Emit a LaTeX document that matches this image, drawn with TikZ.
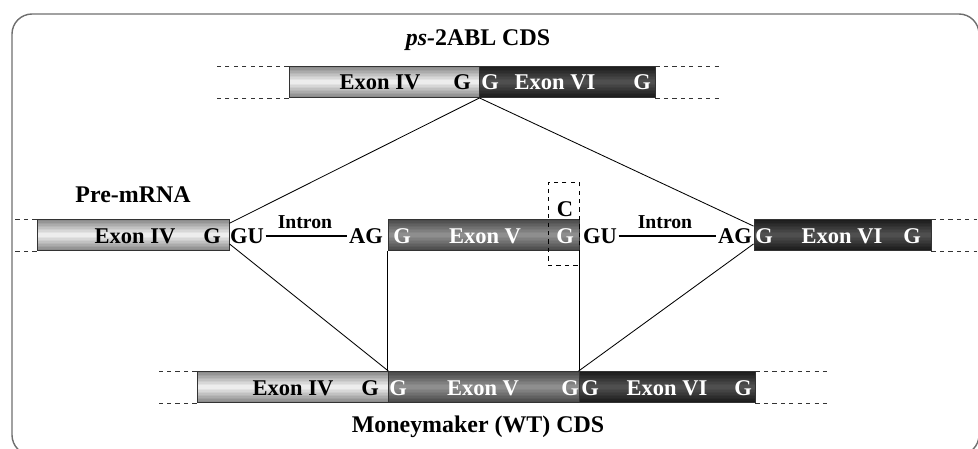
\documentclass[tikz,border=0pt]{standalone}
\usepackage{fontspec}
\setmainfont{Liberation Serif}
\usetikzlibrary{positioning,calc}
\definecolor{ivmid}{HTML}{F2F2F2}
\definecolor{ivedge}{HTML}{8A8A8A}
\definecolor{vmid}{HTML}{929292}
\definecolor{vedge}{HTML}{4A4A4A}
\definecolor{vimid}{HTML}{525252}
\definecolor{viedge}{HTML}{1C1C1C}
\definecolor{framegray}{HTML}{6E6E6E}
\tikzset{font=\bfseries\fontsize{16}{18}\selectfont,
  exon/.style n args={2}{draw=black!80,line width=0.6pt,minimum height=0.775cm,inner sep=0pt,
    path picture={
      \foreach \i in {0,...,19}{
        \pgfmathtruncatemacro\pct{abs(\i-9.5)*10.5}
        \fill[#1!\pct!#2] ($(path picture bounding box.north west)!\i/20!(path picture bounding box.south west)$)
          rectangle ($(path picture bounding box.north east)!{(\i+1.3)/20}!(path picture bounding box.south east)$);
      }}},
  exfour/.style={exon={ivedge}{ivmid}},
  exfive/.style={exon={vedge}{vmid}},
  exsix/.style={exon={viedge}{vimid}},
  blk/.style={text=black,inner sep=1pt},
  wht/.style={text=white,inner sep=1pt},
  title/.style={font=\bfseries\fontsize{17}{19}\selectfont},
  small/.style={font=\bfseries\fontsize{14}{16}\selectfont,inner sep=1pt},
  ext/.style={dashed,line width=0.5pt,black!80},
  splice/.style={line width=0.6pt},
  intron/.style={line width=1.6pt}}

\begin{document}
\begin{tikzpicture}[x=0.025cm,y=-0.025cm]
\useasboundingbox (0,0) rectangle (978,448);
\draw[framegray,line width=1pt,rounded corners=0.5cm] (12,14) rectangle (979,455);

% ps-2ABL CDS
\node[title] (ttl) at (478,40) {\textit{ps-}2ABL CDS};
\node[exfour,minimum width=4.75cm] (t4) at (384,82) {};
\node[exsix,minimum width=4.4cm] (t6) at (567,82) {};
\node[blk] (t4n) at (380,82) {Exon IV};
\node[blk] (t4g) at (462,82) {G};
\node[wht] (t6a) at (490,82) {G};
\node[wht] (t6n) at (555,82) {Exon VI};
\node[wht] (t6g) at (642,82) {G};
\draw[ext] (t4.north west) -- +(-72,0);
\draw[ext] (t4.south west) -- +(-72,0);
\draw[ext] (t6.north east) -- +(65,0);
\draw[ext] (t6.south east) -- +(65,0);

% pre-mRNA
\node[title] (pre) at (133,195) {Pre-mRNA};
\node[exfour,minimum width=4.8cm] (p4) at (133,235) {};
\node[exfive,minimum width=4.775cm] (p5) at (483.5,235) {};
\node[exsix,minimum width=4.425cm] (p6) at (842.5,235) {};
\node[blk] (p4n) at (135,236) {Exon IV};
\node[blk] (p4g) at (212,236) {G};
\node[blk] (gu1) at (247,236) {GU};
\node[blk] (ag1) at (366,236) {AG};
\node[small] (in1) at (305,222) {Intron};
\node[wht] (p5a) at (402,236) {G};
\node[wht] (p5n) at (485,236) {Exon V};
\node[wht] (p5g) at (565,236) {G};
\node[blk] (snp) at (565,209) {C};
\node[draw,dashed,line width=0.5pt,minimum width=0.775cm,minimum height=2.075cm,inner sep=0pt] (cbox) at (563.5,223.5) {};
\node[blk] (gu2) at (600,236) {GU};
\node[blk] (ag2) at (735,236) {AG};
\node[small] (in2) at (665,222) {Intron};
\node[wht] (p6a) at (764,236) {G};
\node[wht] (p6n) at (842,236) {Exon VI};
\node[wht] (p6g) at (912,236) {G};
\draw[intron] (gu1) -- (ag1);
\draw[intron] (gu2) -- (ag2);
\draw[ext] (p4.north west) -- +(-25,0);
\draw[ext] (p4.south west) -- +(-25,0);
\draw[ext] (p6.north east) -- +(46,0);
\draw[ext] (p6.south east) -- +(46,0);

% Moneymaker (WT) CDS
\node[exfour,minimum width=4.775cm] (b4) at (292.5,387) {};
\node[exfive,minimum width=4.775cm] (b5) at (483.5,387) {};
\node[exsix,minimum width=4.4cm] (b6) at (667,387) {};
\node[blk] (b4n) at (293,388) {Exon IV};
\node[blk] (b4g) at (370,388) {G};
\node[wht] (b5a) at (398,388) {G};
\node[wht] (b5n) at (483,388) {Exon V};
\node[wht] (b5g) at (570,388) {G};
\node[wht] (b6a) at (590,388) {G};
\node[wht] (b6n) at (667,388) {Exon VI};
\node[wht] (b6g) at (743,388) {G};
\node[title] (wt) at (478,427) {Moneymaker (WT) CDS};
\draw[ext] (b4.north west) -- +(-39,0);
\draw[ext] (b4.south west) -- +(-39,0);
\draw[ext] (b6.north east) -- +(75,0);
\draw[ext] (b6.south east) -- +(75,0);

% splicing
\draw[splice] (t4.south east) -- ([yshift=-3pt]p4.north east);
\draw[splice] (t4.south east) -- ([yshift=-5pt]p6.north west);
\draw[splice] ([yshift=5pt]p4.south east) -- (b4.north east);
\draw[splice] (p5.south west) -- (b5.north west);
\draw[splice] (p5.south east) -- (b5.north east);
\draw[splice] ([yshift=5pt]p6.south west) -- (b6.north west);
\end{tikzpicture}
\end{document}
